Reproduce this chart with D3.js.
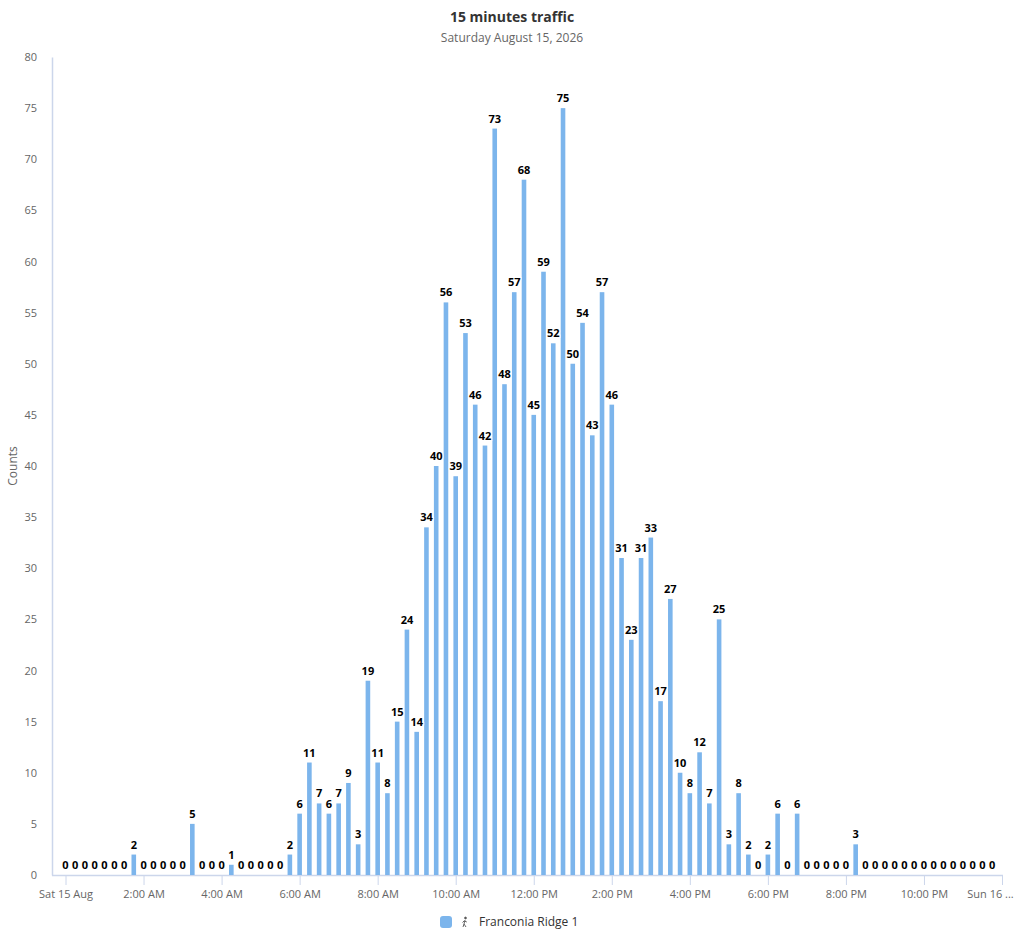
<!DOCTYPE html>
<html>
<head>
<meta charset="utf-8">
<script src="https://cdn.jsdelivr.net/npm/d3@7"></script>
<style>
  html, body { margin: 0; padding: 0; background: #fff; }
  svg { display: block; font-family: "Open Sans", "Noto Sans", sans-serif; }
</style>
</head>
<body>
<svg id="chart" width="1024" height="929"></svg>
<script>
// ---- data ----
const title = "15 minutes traffic";
const subtitle = "Saturday August 15, 2026";
const yTitle = "Counts";
const seriesName = "Franconia Ridge 1";
const startTime = new Date(2026, 7, 15, 0, 0, 0);
const intervalMinutes = 15;
const counts = [
  0,0,0,0,0,0,0,2,0,0,0,0,0,5,0,0,0,1,0,0,0,0,0,2,
  6,11,7,6,7,9,3,19,11,8,15,24,14,34,40,56,39,53,46,42,
  73,48,57,68,45,59,52,75,50,54,43,57,46,31,23,31,33,17,27,10,
  8,12,7,25,3,8,2,0,2,6,0,6,0,0,0,0,0,3,
  0,0,0,0,0,0,0,0,0,0,0,0,0,0
];
const yTicks = [0,5,10,15,20,25,30,35,40,45,50,55,60,65,70,75,80];
const xTickLabels = ["Sat 15 Aug","2:00 AM","4:00 AM","6:00 AM","8:00 AM","10:00 AM",
  "12:00 PM","2:00 PM","4:00 PM","6:00 PM","8:00 PM","10:00 PM","Sun 16 ..."];

// ---- layout ----
const svg = d3.select("#chart");
const plotLeft = 52, plotRight = 1003, plotTop = 57, plotBottom = 875;
const points = counts.map((v, i) => ({ t: d3.timeMinute.offset(startTime, i * intervalMinutes), v }));
const endTime = d3.timeHour.offset(startTime, 24);

const x = d3.scaleTime().domain([startTime, endTime]).range([65.5, 1002]);
const y = d3.scaleLinear().domain([0, 80]).range([plotBottom, plotTop]);
const barW = 4.6;
const barColor = "#7cb5ec";
const axisColor = "#ccd6eb";

// titles
svg.append("text").attr("x", 512).attr("y", 22).attr("text-anchor", "middle")
  .attr("font-size", 14).attr("font-weight", "bold").attr("fill", "#333").text(title);
svg.append("text").attr("x", 512).attr("y", 42).attr("text-anchor", "middle")
  .attr("font-size", 12).attr("fill", "#666").text(subtitle);

// y axis
const yAxisG = svg.append("g").attr("transform", `translate(${plotLeft},0)`)
  .call(d3.axisLeft(y).tickValues(yTicks).tickSize(0).tickPadding(15));
yAxisG.select(".domain").attr("stroke", axisColor).attr("stroke-width", 1.5);
yAxisG.selectAll("text").attr("font-size", 11).attr("fill", "#666")
  .attr("font-family", "'Open Sans', 'Noto Sans', sans-serif");

svg.append("text").attr("transform", `translate(17,${(plotTop + plotBottom) / 2}) rotate(-90)`)
  .attr("text-anchor", "middle").attr("font-size", 12).attr("fill", "#666").text(yTitle);

// x axis
const xTickVals = d3.range(0, 13).map(i => d3.timeHour.offset(startTime, i * 2));
const xAxisG = svg.append("g").attr("transform", `translate(0,${plotBottom})`)
  .call(d3.axisBottom(x).tickValues(xTickVals).tickSize(10).tickPadding(5)
    .tickFormat((d, i) => xTickLabels[i]));
xAxisG.select(".domain").attr("d", `M${plotLeft},0.5H${plotRight}`)
  .attr("stroke", axisColor).attr("stroke-width", 1.5);
xAxisG.selectAll(".tick line").attr("stroke", axisColor);
xAxisG.selectAll("text").attr("font-size", 11).attr("fill", "#666")
  .attr("font-family", "'Open Sans', 'Noto Sans', sans-serif");
xAxisG.selectAll(".tick").filter((d, i) => i === xTickLabels.length - 1)
  .select("text").attr("dx", -12);

// bars
svg.append("g").selectAll("rect").data(points).join("rect")
  .attr("x", d => x(d.t) - barW / 2)
  .attr("y", d => y(d.v))
  .attr("width", barW)
  .attr("height", d => plotBottom - y(d.v))
  .attr("fill", barColor);

// data labels
svg.append("g").selectAll("text").data(points).join("text")
  .attr("x", d => x(d.t))
  .attr("y", d => y(d.v) - 6)
  .attr("text-anchor", "middle")
  .attr("font-size", 11).attr("font-weight", "bold").attr("fill", "#000")
  .attr("stroke", "#fff").attr("stroke-width", 2).attr("paint-order", "stroke")
  .text(d => d.v);

// legend
const lg = svg.append("g");
lg.append("rect").attr("x", 440).attr("y", 916).attr("width", 12).attr("height", 12)
  .attr("rx", 3).attr("fill", barColor);
// small hiker icon
const ic = lg.append("g").attr("transform", "translate(465,922)").attr("stroke", "#555")
  .attr("fill", "none").attr("stroke-width", 0.9);
ic.append("circle").attr("cx", 0.5).attr("cy", -4).attr("r", 0.9).attr("fill", "#555");
ic.append("path").attr("d", "M0,-2 L-1,2 M-1,-1 L-2.5,0.5 M-0.5,-1 L1.8,0 M-1,2 L-2,5 M-1,2 L1,5");
lg.append("text").attr("x", 479).attr("y", 926).attr("font-size", 12).attr("fill", "#333")
  .text(seriesName);
</script>
</body>
</html>
